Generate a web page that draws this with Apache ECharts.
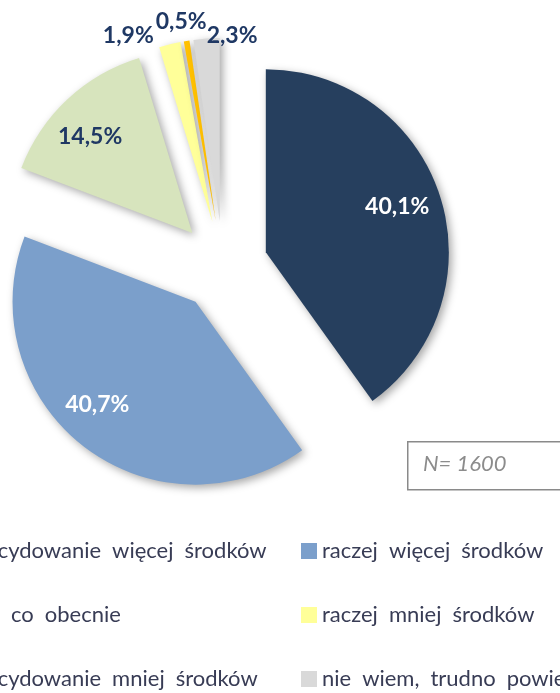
<!DOCTYPE html>
<html>
<head>
<meta charset="utf-8">
<script src="https://cdn.jsdelivr.net/npm/echarts@6/dist/echarts.min.js"></script>
<style>
  html, body { margin: 0; padding: 0; background: #fff; }
  #chart { width: 560px; height: 693px; }
</style>
</head>
<body>
<div id="chart"></div>
<script>
  // answers, clockwise from 12 o'clock
  const categories = [
    'zdecydowanie więcej środków',
    'raczej więcej środków',
    'tyle co obecnie',
    'raczej mniej środków',
    'zdecydowanie mniej środków',
    'nie wiem, trudno powiedzieć'
  ];
  const shares = [40.1, 40.7, 14.5, 1.9, 0.5, 2.3];
  const sampleNote = 'N= 1600';

  const colors = ['#263F5E', '#7B9FCB', '#D7E4BD', '#FFFF99', '#FFC000', '#D9D9D9'];
  const labelColors = ['#ffffff', '#ffffff', '#1F3864', '#1F3864', '#1F3864', '#1F3864'];
  // nudges for the labels, like the hand-placed ones in the original
  const labelNudge = [[0, -3], [-14, -6], [-8, 4], [-11, -9], [25, -19], [56, -3]];

  const center = [223, 266];
  const R = 183;
  const font = 'Lato, "Open Sans", sans-serif';

  const chart = echarts.init(document.getElementById('chart'));

  const pieData = categories.map((name, i) => ({
    name: name,
    value: shares[i],
    selected: true,
    itemStyle: { color: colors[i] }
  }));

  const labelData = categories.map((name, i) => ({
    name: name,
    value: shares[i],
    selected: true,
    label: {
      position: i < 3 ? 'inside' : 'outside',
      color: labelColors[i]
    }
  }));

  const legendBase = {
    orient: 'vertical',
    top: 540,
    padding: 0,
    icon: 'rect',
    itemWidth: 16,
    itemHeight: 16,
    itemGap: 42,
    selectedMode: false,
    // the original legend has wide word gaps
    formatter: name => name.replace(/ /g, '\u2002'),
    itemStyle: { shadowBlur: 0, shadowOffsetX: 0, shadowOffsetY: 0, shadowColor: 'transparent', borderWidth: 0 },
    textStyle: { fontFamily: font, fontSize: 22, lineHeight: 22, color: '#383C55' }
  };

  const option = {
    animation: false,
    legend: [
      Object.assign({}, legendBase, { left: -57, data: [categories[0], categories[2], categories[4]] }),
      Object.assign({}, legendBase, { left: 301, data: [categories[1], categories[3], categories[5]] })
    ],
    graphic: [
      {
        type: 'rect',
        left: 407,
        top: 441,
        shape: { width: 200, height: 48 },
        style: { fill: '#fff', stroke: '#8A8A8A', lineWidth: 1.5 }
      },
      {
        type: 'text',
        left: 423,
        top: 453,
        style: {
          text: sampleNote,
          fill: '#8C8C8C',
          font: 'italic 22px ' + font
        }
      }
    ],
    series: [
      {
        type: 'pie',
        center: center,
        radius: [0, R],
        startAngle: 90,
        selectedMode: 'multiple',
        selectedOffset: 45,
        label: { show: false },
        labelLine: { show: false },
        emphasis: { disabled: true },
        select: { itemStyle: { borderWidth: 0 } },
        itemStyle: {
          shadowBlur: 8,
          shadowOffsetX: 3,
          shadowOffsetY: 3,
          shadowColor: 'rgba(0, 0, 0, 0.35)'
        },
        data: pieData
      },
      {
        // invisible copy, only for placing the percentage labels
        type: 'pie',
        center: center,
        radius: [87, R],
        startAngle: 90,
        silent: true,
        selectedMode: 'multiple',
        selectedOffset: 45,
        avoidLabelOverlap: false,
        itemStyle: { color: 'rgba(0,0,0,0)' },
        select: { itemStyle: { borderWidth: 0 } },
        emphasis: { disabled: true },
        label: {
          show: true,
          fontFamily: font,
          fontWeight: 'bold',
          fontSize: 23,
          formatter: p => p.value.toFixed(1).replace('.', ',') + '%'
        },
        labelLine: { show: false, length: 0, length2: 0 },
        labelLayout: p => ({ dx: labelNudge[p.dataIndex][0], dy: labelNudge[p.dataIndex][1] }),
        data: labelData
      }
    ]
  };

  chart.setOption(option);
  window.addEventListener('resize', function () {
    chart.resize();
  });
</script>
</body>
</html>
